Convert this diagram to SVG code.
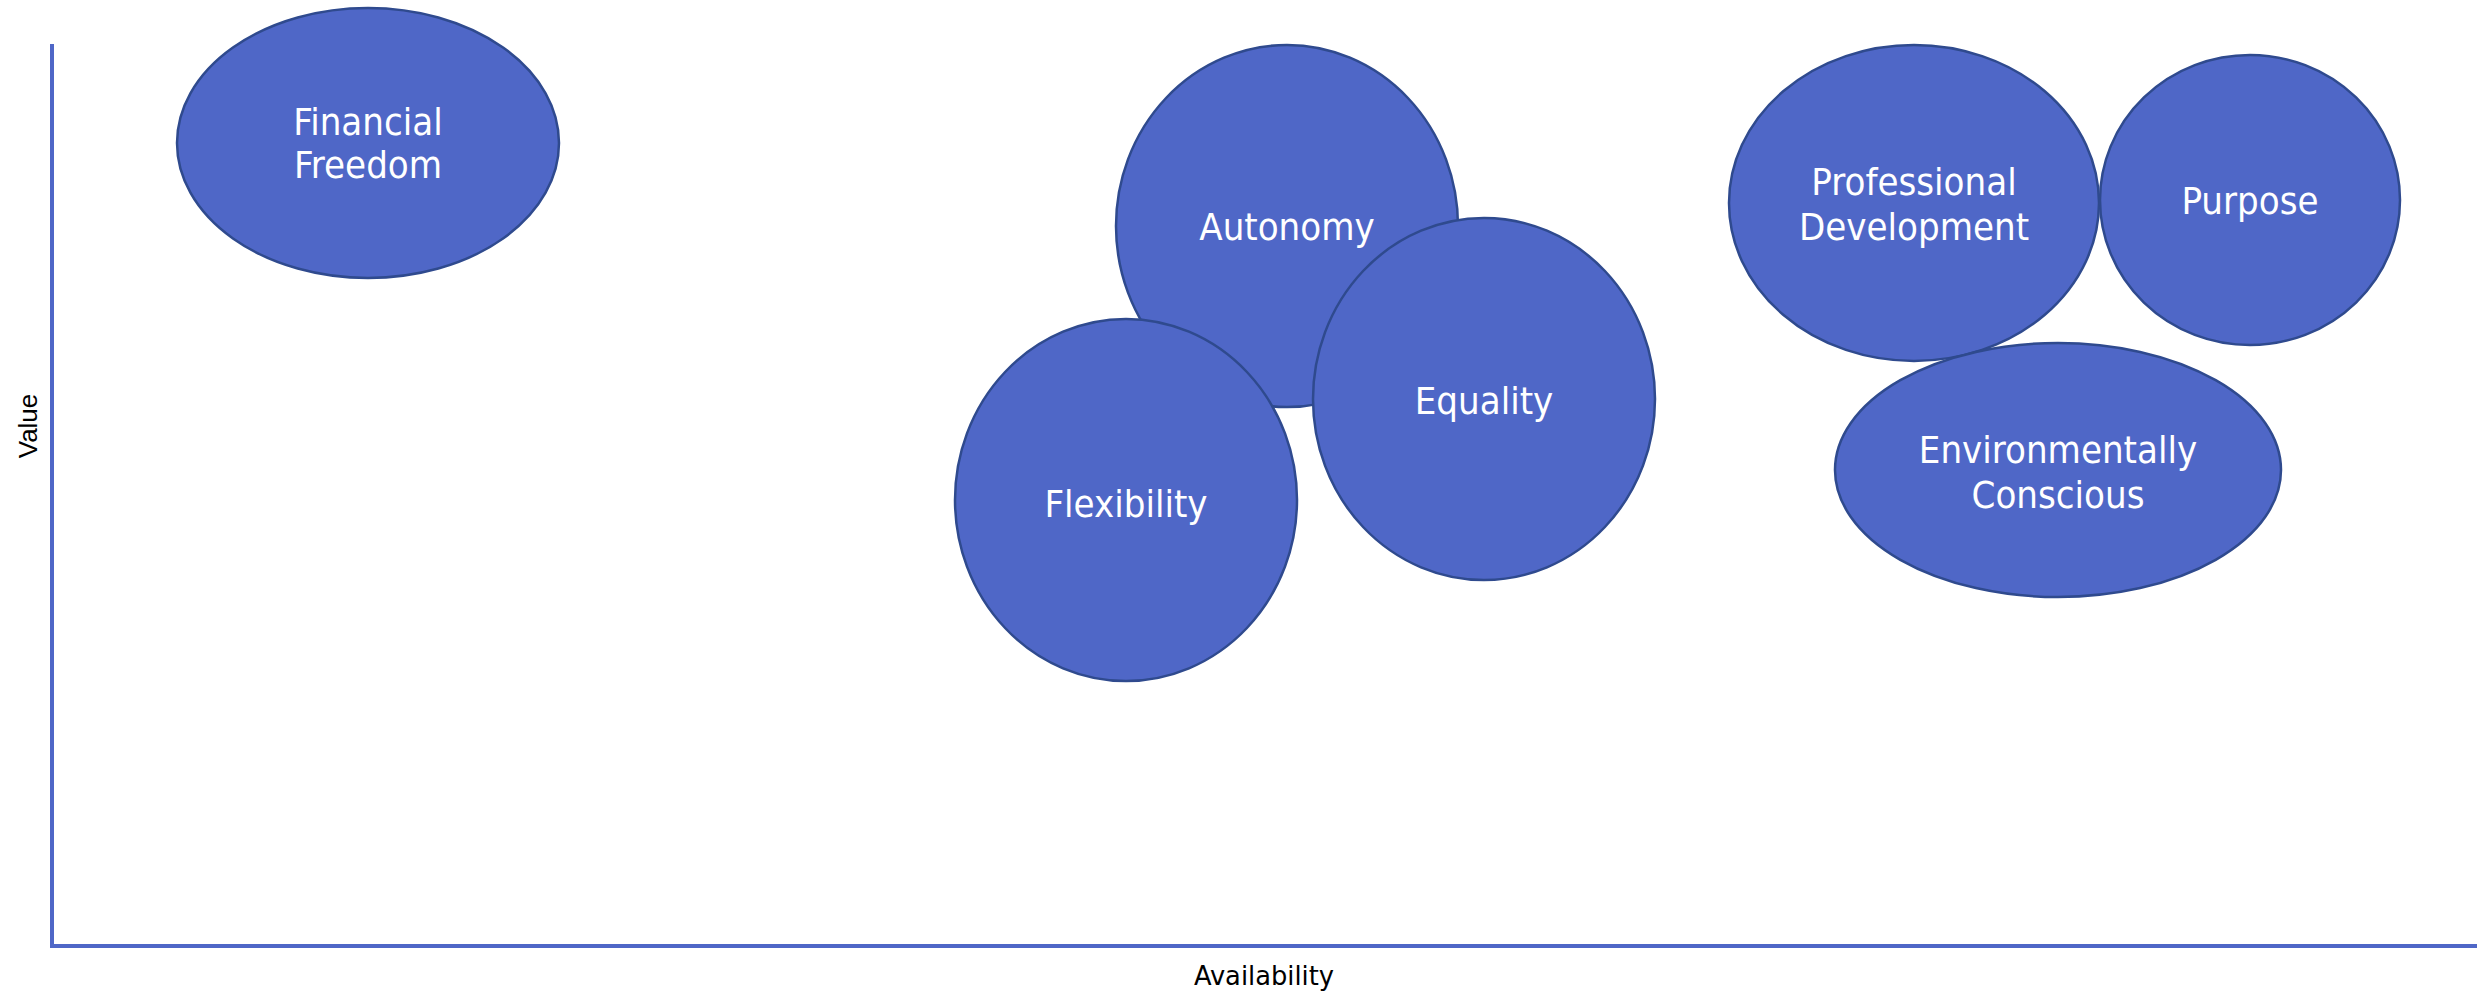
<svg xmlns="http://www.w3.org/2000/svg" width="2486" height="992" viewBox="0 0 2486 992">
  <style>
    .bubble { fill: #4F67C7; stroke: #2F4A8E; stroke-width: 2.5; }
    .label { fill: #FFFFFF; font-family: "DejaVu Sans Condensed", "DejaVu Sans", sans-serif; font-size: 38px; text-anchor: middle; }
    .axis { stroke: #4F67C7; stroke-width: 4; fill: none; }
    .axis-title { fill: #000000; font-size: 26px; text-anchor: middle; }
  </style>
  <rect width="2486" height="992" fill="#FFFFFF"/>

  <!-- axes -->
  <g id="axes">
    <line class="axis" x1="52" y1="44" x2="52" y2="948"/>
    <line class="axis" x1="50" y1="946" x2="2477" y2="946"/>
    <text class="axis-title" x="1264" y="985" font-family="DejaVu Sans Condensed, DejaVu Sans, sans-serif" textLength="140" lengthAdjust="spacingAndGlyphs">Availability</text>
    <text class="axis-title" transform="translate(37 426) rotate(-90)" font-family="Liberation Sans, Arial, sans-serif">Value</text>
  </g>

  <g id="connectors"></g>

  <g id="financial-freedom">
    <ellipse class="bubble" cx="368" cy="143" rx="191" ry="135"/>
    <text class="label" x="368" y="135">Financial</text>
    <text class="label" x="368" y="178">Freedom</text>
  </g>

  <g id="autonomy">
    <ellipse class="bubble" cx="1287" cy="226" rx="171" ry="181"/>
    <text class="label" x="1287" y="240">Autonomy</text>
  </g>

  <g id="equality">
    <ellipse class="bubble" cx="1484" cy="399" rx="171" ry="181"/>
    <text class="label" x="1484" y="414">Equality</text>
  </g>

  <g id="flexibility">
    <ellipse class="bubble" cx="1126" cy="500" rx="171" ry="181"/>
    <text class="label" x="1126" y="517">Flexibility</text>
  </g>

  <g id="professional-development">
    <ellipse class="bubble" cx="1914" cy="203" rx="185" ry="158"/>
    <text class="label" x="1914" y="195">Professional</text>
    <text class="label" x="1914" y="240">Development</text>
  </g>

  <g id="purpose">
    <ellipse class="bubble" cx="2250" cy="200" rx="150" ry="145"/>
    <text class="label" x="2250" y="214">Purpose</text>
  </g>

  <g id="environmentally-conscious">
    <ellipse class="bubble" cx="2058" cy="470" rx="223" ry="127"/>
    <text class="label" x="2058" y="463">Environmentally</text>
    <text class="label" x="2058" y="508">Conscious</text>
  </g>
</svg>
